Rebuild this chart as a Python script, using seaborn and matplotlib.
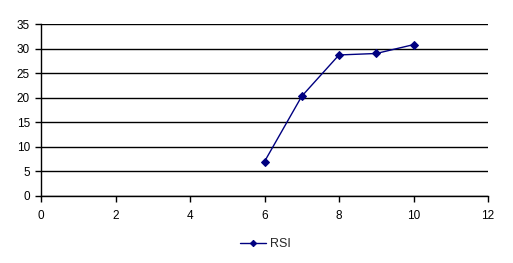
import matplotlib
matplotlib.use("Agg")
import matplotlib.pyplot as plt
import seaborn as sns
import pandas as pd

x_vals = [6, 7, 8, 9, 10]
rsi_vals = [7.0, 20.3, 28.7, 29.0, 30.8]
series_name = "RSI"
x_ticks = [0, 2, 4, 6, 8, 10, 12]
y_ticks = [0, 5, 10, 15, 20, 25, 30, 35]

sns.set_style("white")
plt.rcParams['font.family'] = ['Liberation Sans', 'DejaVu Sans']

df = pd.DataFrame({"x": x_vals, "y": rsi_vals, "s": series_name})

fig = plt.figure(figsize=(5.13, 2.63), dpi=100)
ax = fig.add_axes([41/513, 1 - 196/263, (488 - 41)/513, (196 - 24)/263])
sns.lineplot(data=df, x="x", y="y", hue="s", palette=["#000080"], marker="D",
             markersize=4, markeredgecolor="#000080", linewidth=1, ax=ax, legend=True)
ax.set_xlim(0, 12)
ax.set_ylim(0, 35)
ax.set_xticks(x_ticks)
ax.set_yticks(y_ticks)
ax.set_xlabel("")
ax.set_ylabel("")
ax.yaxis.grid(True, color="black", linewidth=1)
ax.set_axisbelow(True)
for s in ["top", "right"]:
    ax.spines[s].set_visible(False)
for s in ["left", "bottom"]:
    ax.spines[s].set_color("black")
    ax.spines[s].set_linewidth(1)
ax.tick_params(axis="both", direction="out", length=4, width=1, color="black",
               labelsize=8.5, labelcolor="black", left=True, bottom=True, pad=4)
ax.tick_params(axis="x", pad=6)
leg = ax.legend(loc="center", bbox_to_anchor=(265 / 513, (263 - 244) / 263), bbox_transform=fig.transFigure,
                frameon=False, fontsize=9, handlelength=2.1, handletextpad=0.3, borderpad=0,
                markerscale=0.8)
fig.savefig("out.png", dpi=100)
